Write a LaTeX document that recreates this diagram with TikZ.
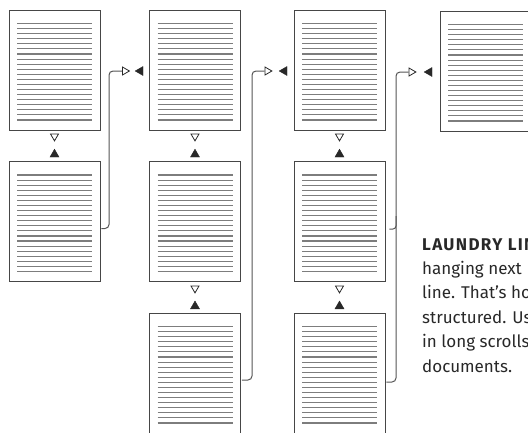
\documentclass[tikz,border=0pt]{standalone}
\usepackage{fontspec}
\setmainfont{Fira Sans}
\newfontfamily\headfont{Fira Sans}[LetterSpace=8]
\usetikzlibrary{shapes.geometric}
\definecolor{frame}{RGB}{70,70,70}
\definecolor{rulec}{RGB}{125,125,125}
\definecolor{ink}{RGB}{40,40,40}
\definecolor{wire}{RGB}{85,85,85}
\tikzset{
  sheet/.style={draw=frame, line width=0.9pt, fill=white, minimum width=91pt, minimum height=120pt, inner sep=0pt,
    path picture={\foreach \i in {0,...,19}{\draw[rulec, line width=1.1pt] ([shift={(8pt,{-13.5pt-\i*5.08pt})}]path picture bounding box.north west) -- ([shift={(-8pt,{-13.5pt-\i*5.08pt})}]path picture bounding box.north east);}}},
  opentri/.style={regular polygon, regular polygon sides=3, draw=ink, fill=white, line width=0.8pt, inner sep=0pt, minimum size=9.2pt},
  solidtri/.style={regular polygon, regular polygon sides=3, draw=ink, fill=ink, line width=0.4pt, inner sep=0pt, minimum size=10.4pt},
  down/.style={shape border rotate=180},
  right/.style={shape border rotate=-90},
  left/.style={shape border rotate=90},
  connector/.style={draw=wire, line width=1pt, rounded corners=4pt},
  bodytext/.style={anchor=base west, inner sep=0pt, text=ink, font=\fontsize{17pt}{20pt}\selectfont},
  headtext/.style={anchor=base west, inner sep=0pt, text=ink, font=\fontsize{17pt}{20pt}\headfont\bfseries},
}
\begin{document}
\begin{tikzpicture}[x=1pt, y=-1pt]
\useasboundingbox (0,0) rectangle (528,432);
\clip (0,0) rectangle (528,432);
% pages
\node[sheet] (p11) at (54.5,70) {};
\node[sheet] (p12) at (54.5,221.5) {};
\node[sheet] (p21) at (195,70) {};
\node[sheet] (p22) at (195,221.5) {};
\node[sheet] (p23) at (195,373) {};
\node[sheet] (p31) at (339.5,70) {};
\node[sheet] (p32) at (339.5,221.5) {};
\node[sheet] (p33) at (339.5,373) {};
\node[sheet] (p41) at (485.5,71) {};
% vertical clips
\foreach \c/\x in {1/54.5, 2/195, 3/339.5}{
  \node[opentri, down] (a\c1) at (\x,136.3) {};
  \node[solidtri] (b\c1) at (\x,154.4) {};
}
\foreach \c/\x in {2/195, 3/339.5}{
  \node[opentri, down] (a\c2) at (\x,288.3) {};
  \node[solidtri] (b\c2) at (\x,306.2) {};
}
% horizontal clips
\node[opentri, right] (o1) at (124.8,71) {};
\node[solidtri, left] (s1) at (140.4,71) {};
\node[opentri, right] (o2) at (267.3,71) {};
\node[solidtri, left] (s2) at (284.4,71) {};
\node[opentri, right] (o3) at (411.3,72) {};
\node[solidtri, left] (s3) at (429.4,72) {};
% connectors
\coordinate (v1) at (109,71);
\coordinate (v2) at (252,71);
\coordinate (v3) at (396,72);
\coordinate (j3) at (396,216);
\draw[connector] ([xshift=1pt,yshift=-7pt]p12.east) -| (v1) -- (o1.west);
\draw[connector] ([xshift=1pt,yshift=-7pt]p23.east) -| (v2) -- (o2.west);
\draw[connector] ([xshift=1pt,yshift=-9pt]p33.east) -| (v3) -- (o3.west);
\draw[connector, rounded corners=3pt] ([xshift=4pt,yshift=-7.5pt]p32.east) -| (j3);
% text
\node[headtext] (t1) at (422,250) {LAUNDRY LIN};
\node[bodytext] (t2) at (422,274.4) {hanging next};
\node[bodytext] (t3) at (422,298.8) {line. That's ho};
\node[bodytext] (t4) at (422,323.2) {structured. Us};
\node[bodytext] (t5) at (422,347.6) {in long scrolls};
\node[bodytext] (t6) at (422,372) {documents.};
\end{tikzpicture}
\end{document}
